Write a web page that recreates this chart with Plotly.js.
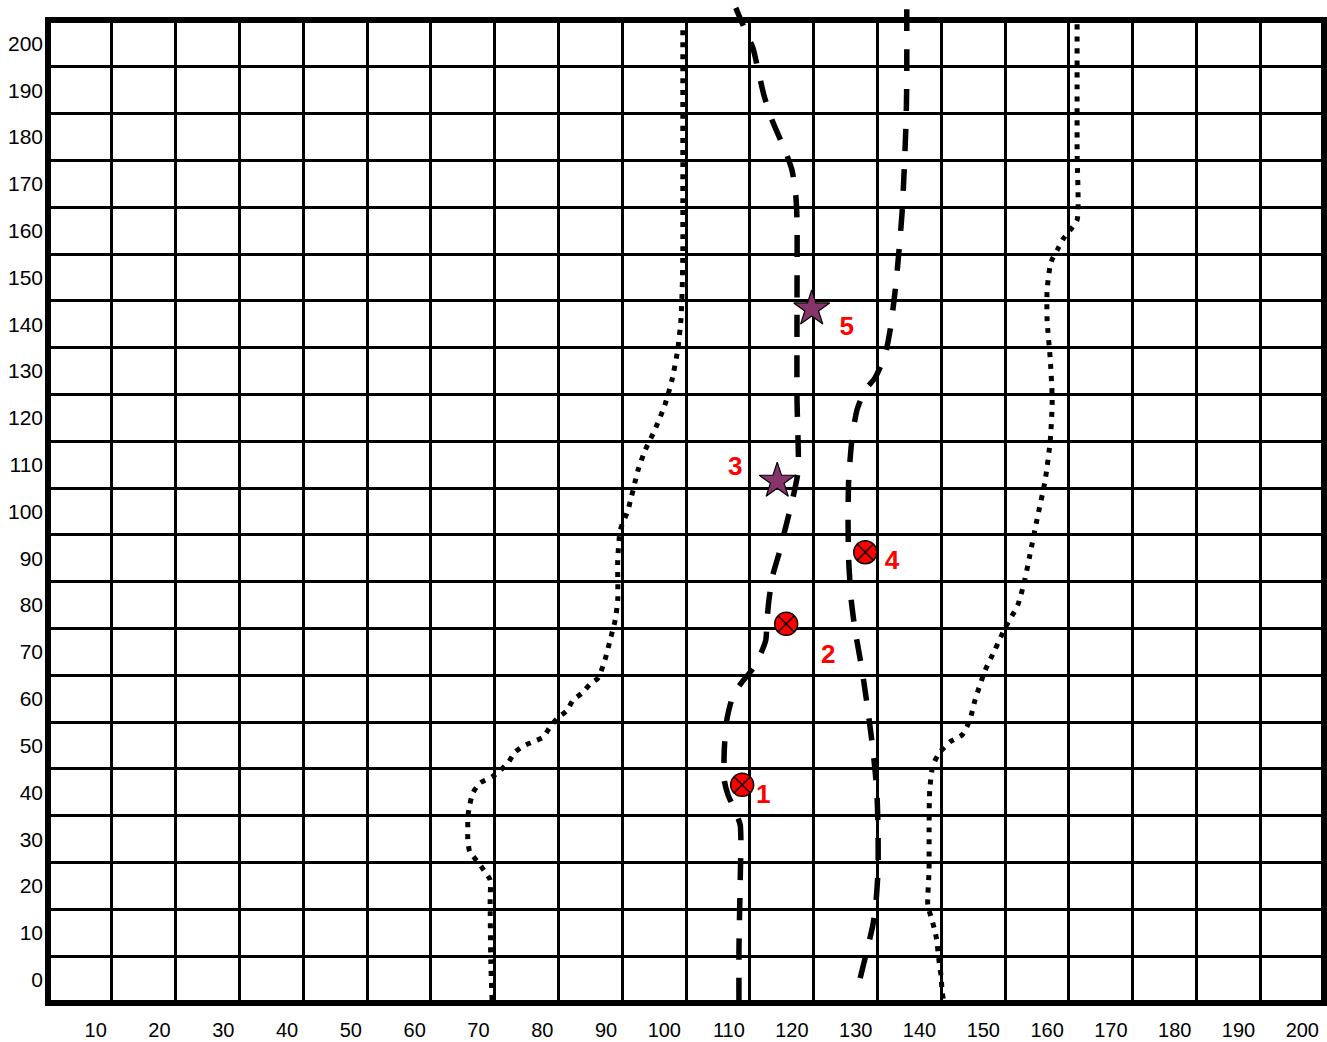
<!DOCTYPE html>
<html>
<head>
<meta charset="utf-8">
<script src="https://cdn.plot.ly/plotly-3.0.1.min.js"></script>
<style>html,body{margin:0;padding:0;background:#fff;}#chart{width:1327px;height:1042px;}</style>
</head>
<body>
<div id="chart"></div>
<script>
// Tick labels
const xTickVals = [10,20,30,40,50,60,70,80,90,100,110,120,130,140,150,160,170,180,190,200];
const xTickText = xTickVals.map(String);
const yTickVals = [0,10,20,30,40,50,60,70,80,90,100,110,120,130,140,150,160,170,180,190,200];
const yTickText = yTickVals.map(String);

// Left dotted boundary
const leftDotX = [69.6,69.4,69.3,69.3,68.5,67.4,66.1,65.8,65.8,65.8,66.1,66.6,67.7,69.6,70.8,72.1,73.2,74.5,76.0,77.6,78.7,79.9,81.3,82.3,83.7,85.0,86.2,87.3,88.1,88.9,89.3,89.3,89.7,90.9,92.5,93.6,95.1,96.7,97.8,98.7,99.2,99.4,99.5,99.5,99.5,99.5];
const leftDotY = [-4.4,4.2,17.0,21.3,23.0,25.1,27.3,30.0,32.4,34.7,37.3,39.9,42.0,43.3,44.6,46.3,48.6,49.9,50.8,51.8,54.0,55.9,57.4,59.7,61.2,63.2,64.4,68.3,72.5,76.8,81.1,89.6,96.0,100.3,108.9,113.1,117.4,122.8,128.1,134.5,140.9,147.3,155.9,166.5,187.9,203.9];

// Right dotted boundary
const rightDotX = [140.3,140.1,140.0,139.7,139.5,139.3,138.9,138.4,137.9,138.1,138.1,138.2,138.7,139.8,141.4,143.3,144.5,145.3,146.9,148.4,150.0,152.0,153.1,153.9,155.0,156.3,157.1,157.4,157.1,156.6,156.6,157.1,157.5,158.2,159.1,160.2,161.3,161.3,161.3];
const rightDotY = [-4.1,-1.8,0.6,3.5,5.9,8.5,11.0,13.4,15.9,23.4,32.0,40.5,45.8,48.6,50.8,52.3,55.5,59.7,66.1,70.4,75.1,80.0,85.4,90.7,98.2,106.7,115.3,123.8,132.4,140.9,147.3,152.7,154.2,155.9,158.2,160.1,162.3,177.2,204.3];

// Left dashed track
const dashAX = [108.3,108.3,108.5,108.6,108.5,107.8,106.6,106.0,106.0,106.4,107.4,108.8,110.3,111.6,112.5,112.7,113.0,113.6,114.6,115.5,116.5,117.2,117.6,117.6,117.4,117.4,117.4,117.2,116.6,115.5,113.5,112.2,111.3,110.5,109.6,108.6,107.8];
const dashAY = [-4.4,6.3,21.3,29.8,33.0,35.8,39.4,42.6,49.1,55.5,60.8,63.6,66.1,69.3,72.5,76.8,81.1,86.4,91.1,96.0,101.4,105.7,108.9,113.1,123.8,145.2,162.3,167.6,173.0,177.2,183.6,189.0,194.3,199.0,201.8,205.0,207.6];

// Right dashed track
const dashBX = [127.3,128.2,129.3,129.8,130.1,130.1,129.9,129.3,128.5,127.6,126.5,125.9,125.5,125.4,125.5,126.0,126.8,128.1,129.6,131.2,132.0,132.8,133.4,133.9,134.2,134.5,134.6,134.6];
const dashBY = [0.3,5.3,11.7,17.0,23.4,32.0,40.5,49.1,57.6,66.1,74.7,81.1,89.6,98.2,106.7,115.3,121.7,126.0,128.5,133.4,138.8,147.3,155.9,164.4,173.0,183.6,192.2,209.3];

// Points (circle-x) and stars
const circX = [108.8,115.7,128.1];
const circY = [41.6,76.0,91.3];
const starX = [114.3,119.7];
const starY = [106.5,143.3];

// Point labels
const labX = [112.1,122.3,107.7,132.3,125.2];
const labY = [39.2,69.0,109.2,89.2,139.2];
const labText = ['1','2','3','4','5'];

const dotLine = {color:'black', width:5, dash:'5px,7px', shape:'spline', smoothing:0.6};
const dashLine = {color:'black', width:5.5, dash:'22px,18px', shape:'spline', smoothing:0.6};

const onTop = {xaxis:'x2', yaxis:'y2', hoverinfo:'skip'};
const traces = [
  {x:leftDotX, y:leftDotY, mode:'lines', line:dotLine, hoverinfo:'skip'},
  {x:rightDotX, y:rightDotY, mode:'lines', line:dotLine, hoverinfo:'skip'},
  Object.assign({x:dashAX, y:dashAY, mode:'lines', line:dashLine}, onTop),
  Object.assign({x:dashBX, y:dashBY, mode:'lines', line:dashLine}, onTop),
  Object.assign({x:circX, y:circY, mode:'markers', cliponaxis:false,
   marker:{symbol:'circle-x', size:23, color:'#ff0000', line:{color:'black', width:1.5}}}, onTop),
  Object.assign({x:starX, y:starY, mode:'markers', cliponaxis:false,
   marker:{symbol:'star', size:27, color:'#86356b', line:{color:'black', width:1.2}}}, onTop),
  Object.assign({x:labX, y:labY, mode:'text', text:labText, cliponaxis:false,
   textfont:{family:'Liberation Sans, Arial, sans-serif', size:26, color:'#ff0000', weight:'bold'}}, onTop)
];

const gridTop = 983/1003;
const layout = {
  width:1327, height:1042,
  margin:{l:48, r:3, t:0, b:39},
  paper_bgcolor:'white', plot_bgcolor:'rgba(0,0,0,0)',
  showlegend:false,
  xaxis:{
    domain:[0,1], anchor:'y',
    range:[0,200], tickmode:'array', tickvals:xTickVals, ticktext:xTickText,
    ticklabelposition:'outside left', ticklabelstandoff:13, ticklabelshift:-5,
    showgrid:true, gridcolor:'black', gridwidth:3,
    zeroline:false, showline:false, ticks:'',
    tickfont:{family:'Liberation Sans, Arial, sans-serif', size:20, color:'black'}
  },
  yaxis:{
    domain:[0,gridTop], anchor:'x',
    range:[-5,205], tickmode:'array', tickvals:yTickVals, ticktext:yTickText,
    ticklabelstandoff:4,
    showgrid:false, zeroline:false, showline:false, ticks:'',
    minor:{tickmode:'linear', tick0:-5, dtick:10, showgrid:true, gridcolor:'black', gridwidth:3, ticks:''},
    tickfont:{family:'Liberation Sans, Arial, sans-serif', size:21, color:'black'}
  },
  xaxis2:{domain:[0,1], anchor:'y2', range:[0,200], visible:false, showgrid:false, zeroline:false},
  yaxis2:{domain:[0,1], anchor:'x2', range:[-5,209.27], visible:false, showgrid:false, zeroline:false},
  shapes:[
    {type:'rect', xref:'paper', yref:'paper', x0:0, x1:1, y0:0, y1:gridTop, line:{color:'black', width:6}, layer:'above'}
  ]
};

Plotly.newPlot('chart', traces, layout, {staticPlot:true, displayModeBar:false});
</script>
</body>
</html>
